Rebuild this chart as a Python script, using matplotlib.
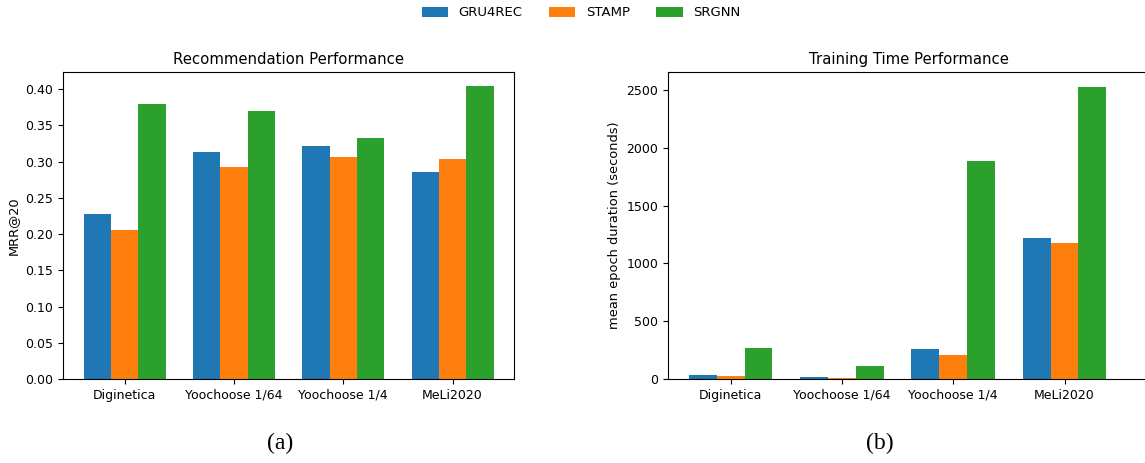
import matplotlib
matplotlib.use("Agg")
import matplotlib.pyplot as plt
import numpy as np

datasets = ["Diginetica", "Yoochoose 1/64", "Yoochoose 1/4", "MeLi2020"]
models = ["GRU4REC", "STAMP", "SRGNN"]
colors = ["#1f77b4", "#ff7f0e", "#2ca02c"]

mrr_gru4rec = [0.227, 0.313, 0.321, 0.285]
mrr_stamp = [0.205, 0.292, 0.306, 0.303]
mrr_srgnn = [0.379, 0.370, 0.332, 0.404]

time_gru4rec = [37, 20, 262, 1223]
time_stamp = [29, 12, 210, 1179]
time_srgnn = [271, 115, 1889, 2529]

W, H = 1145, 463
fig = plt.figure(figsize=(W / 100, H / 100), dpi=100)

def px_axes(l, r, t, b):
    return fig.add_axes([l / W, 1 - b / H, (r - l) / W, (b - t) / H])

ax1 = px_axes(63, 514, 72, 379)
ax2 = px_axes(668, 1150, 72, 379)

x = np.arange(len(datasets))
bw = 0.25
TICK = 9
LAB = 9.4
TITLE = 10.7

bars = []
for ax, series in ((ax1, [mrr_gru4rec, mrr_stamp, mrr_srgnn]),
                   (ax2, [time_gru4rec, time_stamp, time_srgnn])):
    for i, (vals, c, m) in enumerate(zip(series, colors, models)):
        b = ax.bar(x + (i - 1) * bw, vals, bw, color=c, label=m)
        if ax is ax1:
            bars.append(b)
    ax.set_xticks(x)
    ax.set_xticklabels(datasets)
    ax.tick_params(labelsize=TICK)

ax1.set_title("Recommendation Performance", fontsize=TITLE)
ax1.set_ylabel("MRR@20", fontsize=LAB)
ax1.set_xlim(-0.5625, 3.5625)
ax1.set_ylim(0, 0.4235)
ax1.set_yticks(np.arange(0, 0.41, 0.05))

ax2.set_title("Training Time Performance", fontsize=TITLE)
ax2.set_ylabel("mean epoch duration (seconds)", fontsize=LAB)
ax2.set_xlim(-0.5625, -0.5625 + 482 / 111.3)
ax2.set_ylim(0, 2655)

fig.legend(bars, models, loc="center", bbox_to_anchor=(581 / W, 1 - 13 / H),
           ncol=3, frameon=False, fontsize=9.5)

fig.text(280 / W, 1 - 443 / H, "(a)", ha="center", va="center",
         fontsize=17, family="Liberation Serif")
fig.text(880 / W, 1 - 443 / H, "(b)", ha="center", va="center",
         fontsize=17, family="Liberation Serif")

fig.savefig("out.png", dpi=100)
